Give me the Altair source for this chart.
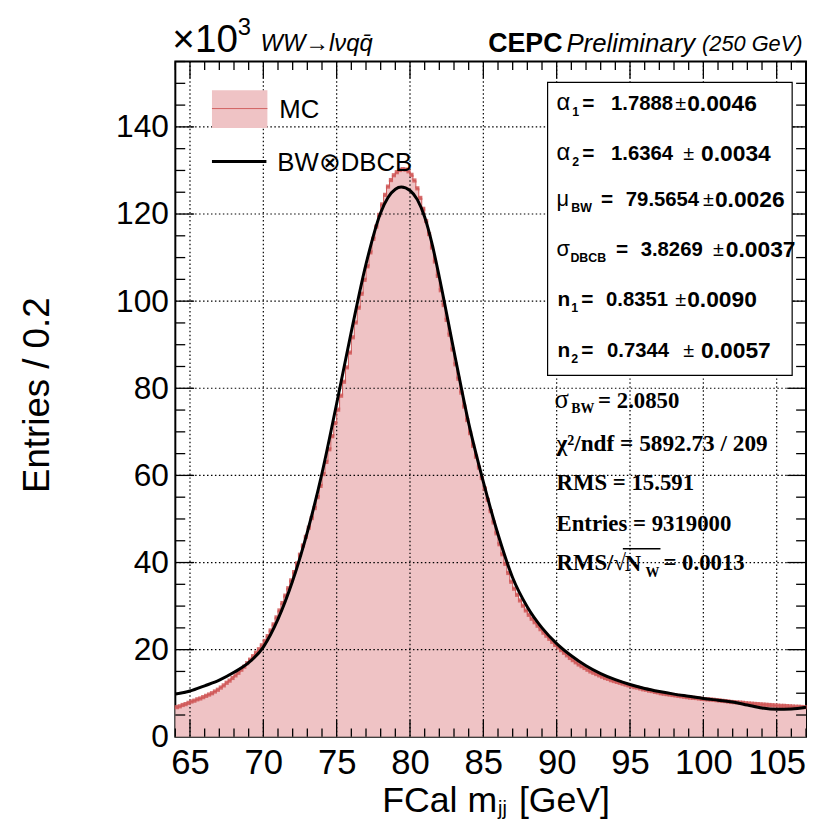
import altair as alt
import pandas as pd

# ---------------- data (values in units of 10^3 entries) ----------------
BIN_START = 64.0
BIN_WIDTH = 0.2
MC_COUNTS = [
    6.8, 7.0, 7.3, 7.5, 7.8, 8.1, 8.3, 8.6, 8.8, 9.1,
    9.4, 9.7, 10.0, 10.4, 10.8, 11.3, 11.8, 12.4, 12.9, 13.5,
    14.1, 14.7, 15.4, 16.1, 16.9, 17.7, 18.5, 19.3, 20.1, 21.0,
    22.0, 23.1, 24.4, 25.8, 27.4, 29.0, 30.7, 32.4, 34.1, 35.9,
    37.8, 39.8, 41.8, 43.9, 45.9, 48.0, 50.2, 52.5, 55.0, 57.6,
    60.3, 63.1, 66.0, 69.0, 72.0,
    75.1, 78.3, 81.5, 84.8, 88.2, 91.7, 95.1, 98.5, 101.7, 104.9,
    108.0, 111.2, 114.3, 117.1, 119.8, 122.2, 124.4, 126.3, 127.8, 128.9,
    129.6, 130.1, 130.3, 130.2, 129.8,
    129.0, 127.7, 125.9, 123.7, 121.2, 118.4, 115.4, 112.3, 109.1, 105.8,
    102.5, 99.1, 95.7, 92.3, 88.9, 85.5, 82.2, 79.0, 75.8, 72.7,
    69.7, 66.8, 64.3, 61.8, 59.4,
    57.0, 54.4, 51.8, 49.2, 46.7, 44.2, 41.9, 39.7, 37.6, 35.6,
    34.0, 32.6, 31.3, 30.1, 29.0, 28.0, 27.1, 26.3, 25.5, 24.7,
    23.9, 23.2, 22.5, 21.8, 21.1,
    20.5, 19.9, 19.3, 18.7, 18.1, 17.6, 17.1, 16.6, 16.2, 15.8,
    15.4, 15.0, 14.7, 14.4, 14.1, 13.8, 13.5, 13.3, 13.0, 12.8,
    12.6, 12.4, 12.2, 12.0, 11.8,
    11.6, 11.4, 11.3, 11.1, 10.9, 10.8, 10.6, 10.5, 10.3, 10.2,
    10.0, 9.9, 9.8, 9.7, 9.6, 9.5, 9.4, 9.3, 9.2, 9.1,
    9.0, 8.95, 8.9, 8.8, 8.7,
    8.65, 8.6, 8.55, 8.5, 8.4, 8.35, 8.25, 8.2, 8.1, 8.0,
    7.95, 7.9, 7.85, 7.8, 7.7, 7.65, 7.6, 7.55, 7.5, 7.45,
    7.4, 7.35, 7.3, 7.25, 7.2,
    7.15, 7.1, 7.1, 7.05, 7.0, 6.95, 6.9, 6.9, 6.85, 6.8,
]
FIT_X = [64, 65, 66, 67, 68, 69, 70, 71, 72, 73, 74, 75, 76, 77, 78, 78.5, 79, 79.4,
         80, 80.5, 81, 81.5, 82, 83, 84, 85, 86, 87, 88, 89, 90, 91, 92, 93, 94, 95,
         96, 97, 98, 99, 100, 101, 102, 103, 104, 105, 106, 107]
FIT_Y = [9.8, 10.5, 11.7, 13.0, 14.8, 17.0, 20.6, 27.0, 35.8, 47.0, 60.5, 76.5, 93.0,
         108.5, 120.3, 123.8, 125.7, 126.2, 125.4, 123.3, 119.3, 113.2, 105.5, 88.5,
         72.0, 58.5, 46.5, 36.5, 29.8, 25.0, 21.4, 18.6, 16.3, 14.5, 13.1, 12.0, 11.1,
         10.4, 9.8, 9.3, 8.8, 8.4, 8.0, 7.3, 6.6, 6.3, 6.4, 6.8]
X_DOMAIN = [64, 107]
Y_DOMAIN = [0, 155]
X_TICKS = [65, 70, 75, 80, 85, 90, 95, 100, 105]
Y_TICKS = [0, 20, 40, 60, 80, 100, 120, 140]
X_MINOR = [v for v in range(64, 108) if v % 5 != 0]
Y_MINOR = [v for v in range(5, 156, 5) if v % 20 != 0]

PARAM_SYMBOLS = ["α", "α", "μ", "σ", "n", "n"]
PARAM_SUBS = ["1", "2", "BW", "DBCB", "1", "2"]
PARAM_VALUES = ["1.7888", "1.6364", "79.5654", "3.8269", "0.8351", "0.7344"]
PARAM_ERRORS = ["0.0046", "0.0034", "0.0026", "0.0037", "0.0090", "0.0057"]
SIGMA_BW = "2.0850"
CHI2, NDF = "5892.73", "209"
RMS = "15.591"
ENTRIES = "9319000"
RMS_SQRT_N = "0.0013"

# ---------------- layout ----------------
W, H = 637, 682
PAD_L, PAD_T = 169, 50
SANS = "Liberation Sans"
SERIF = "Liberation Serif"


def P(xp, yp):
    """page pixel -> plot pixel"""
    return xp - (8 + PAD_L), yp - (8 + PAD_T)


xs = alt.Scale(domain=X_DOMAIN, nice=False, zero=False)
ys = alt.Scale(domain=Y_DOMAIN, nice=False, zero=False)

n = len(MC_COUNTS)
edges = [BIN_START + BIN_WIDTH * i for i in range(n + 1)]
hist_df = pd.DataFrame({"x": edges, "y": MC_COUNTS + [MC_COUNTS[-1]]})
cent_df = pd.DataFrame({"x": [BIN_START + BIN_WIDTH * (i + 0.5) for i in range(n)], "y": MC_COUNTS})
fit_df = pd.DataFrame({"x": FIT_X, "y": FIT_Y})
one = pd.DataFrame({"a": [0]})

x_axis = alt.Axis(values=X_TICKS, format="d", labelFont=SANS, labelFontSize=35, labelColor="black",
                  labelPadding=9, ticks=False, domain=False, grid=False, labelFlush=False,
                  labelOverlap=False, title=None)
y_axis = alt.Axis(values=Y_TICKS, format="d", labelFont=SANS, labelFontSize=32, labelColor="black",
                  labelPadding=7, ticks=False, domain=False, grid=False, labelFlush=False,
                  labelOverlap=False, title=None)


def X(f):
    return alt.X(f, scale=xs, axis=x_axis, title=None)


def Y(f):
    return alt.Y(f, scale=ys, axis=y_axis, title=None)


layers = []
layers.append(alt.Chart(hist_df).mark_area(interpolate="step-after", color="#efc3c5").encode(
    x=X("x:Q"), y=Y("y:Q")))

# grid (dotted, drawn over the fill)
gx = pd.DataFrame({"g": X_TICKS})
gy = pd.DataFrame({"g": Y_TICKS[1:]})
layers.append(alt.Chart(gx).mark_rule(color="black", strokeWidth=1.2, strokeDash=[1.5, 2.5]).encode(
    x=X("g:Q"), y=alt.value(0), y2=alt.value(H)))
layers.append(alt.Chart(gy).mark_rule(color="black", strokeWidth=1.2, strokeDash=[1.5, 2.5]).encode(
    y=Y("g:Q"), x=alt.value(0), x2=alt.value(W)))

layers.append(alt.Chart(hist_df).mark_line(interpolate="step-after", color="#cc5555", strokeWidth=1).encode(
    x=X("x:Q"), y=Y("y:Q")))
layers.append(alt.Chart(cent_df).mark_square(size=18, color="#d05858", opacity=0.85).encode(
    x=X("x:Q"), y=Y("y:Q")))

layers.append(alt.Chart(fit_df).mark_line(interpolate="monotone", color="black", strokeWidth=3).encode(
    x=X("x:Q"), y=Y("y:Q")))


# ticks (inside frame, ROOT style)
def xticks(vals, ln):
    d = pd.DataFrame({"t": vals})
    a = alt.Chart(d).mark_rule(color="black", strokeWidth=1.3).encode(
        x=X("t:Q"), y=alt.value(H), y2=alt.value(H - ln))
    b = alt.Chart(d).mark_rule(color="black", strokeWidth=1.3).encode(
        x=X("t:Q"), y=alt.value(0), y2=alt.value(ln))
    return [a, b]


def yticks(vals, ln):
    d = pd.DataFrame({"t": vals})
    a = alt.Chart(d).mark_rule(color="black", strokeWidth=1.3).encode(
        y=Y("t:Q"), x=alt.value(0), x2=alt.value(ln))
    b = alt.Chart(d).mark_rule(color="black", strokeWidth=1.3).encode(
        y=Y("t:Q"), x=alt.value(W), x2=alt.value(W - ln))
    return [a, b]


layers += xticks(X_TICKS, 17) + xticks(X_MINOR, 8.5) + yticks(Y_TICKS[1:], 19) + yticks(Y_MINOR, 10)


def txt(s, xp, yp, size, font=SANS, weight="normal", style="normal", align="left",
        baseline="middle", angle=0):
    x, y = P(xp, yp)
    kw = dict(text=s, fontSize=size, font=font, fontWeight=weight, fontStyle=style,
              align=align, baseline=baseline, color="black")
    if angle:
        kw["angle"] = angle
    return alt.Chart(one).mark_text(**kw).encode(x=alt.value(x), y=alt.value(y))


def box(x0, y0, x1, y1, **kw):
    a, b = P(x0, y0)
    c, d = P(x1, y1)
    return alt.Chart(one).mark_rect(**kw).encode(x=alt.value(a), x2=alt.value(c),
                                                 y=alt.value(b), y2=alt.value(d))


def hline(x0, x1, yp, color, width):
    a, b = P(x0, yp)
    c, _ = P(x1, yp)
    return alt.Chart(one).mark_rule(color=color, strokeWidth=width).encode(
        x=alt.value(a), x2=alt.value(c), y=alt.value(b))


# stats box
layers.append(box(553, 79, 800, 375, fill="white", stroke="black", strokeWidth=1.2))
line_y = [101, 151, 198, 248, 299, 350]
sym_size = [24, 24, 22, 22, 21, 21]
sub_x = [578, 578, 577, 576, 577, 577]
eq_x = [588, 588, 607, 622, 587, 587]
val_x = [617, 617, 632, 647, 612, 613]
pm_x = [682, 690, 710, 720, 682, 690]
err_x = [694, 708, 722, 733, 694, 708]
for i in range(6):
    sym = PARAM_SYMBOLS[i]
    if sym == "n":
        layers.append(txt(sym, 563, line_y[i], sym_size[i], weight="bold"))
    else:
        layers.append(txt(sym, 562, line_y[i] - 1, sym_size[i]))
    layers.append(txt(PARAM_SUBS[i], sub_x[i], line_y[i] + 8, 12.5, weight="bold"))
    layers.append(txt("=", eq_x[i], line_y[i], 21, weight="bold"))
    layers.append(txt(PARAM_VALUES[i], val_x[i], line_y[i], 20.5, weight="bold"))
    layers.append(txt("±", pm_x[i], line_y[i], 20))
    layers.append(txt(PARAM_ERRORS[i], err_x[i], line_y[i], 23, weight="bold"))

# serif stats below
layers.append(txt("σ", 560, 400, 27, font=SERIF))
layers.append(txt("BW", 577, 409, 14, font=SERIF, weight="bold"))
layers.append(txt("= " + SIGMA_BW, 604, 401, 23, font=SERIF, weight="bold"))
layers.append(txt("χ²/ndf = " + CHI2 + " / " + NDF, 562, 444, 23.5, font=SERIF, weight="bold"))
layers.append(txt("RMS = " + RMS, 562, 484, 23, font=SERIF, weight="bold"))
layers.append(txt("Entries = " + ENTRIES, 562, 525, 23, font=SERIF, weight="bold"))
layers.append(txt("RMS/√", 562, 565, 23, font=SERIF, weight="bold"))
layers.append(txt("N", 631, 566, 23, font=SERIF, weight="bold"))
layers.append(txt("W", 652, 575, 14, font=SERIF, weight="bold"))
layers.append(txt("= " + RMS_SQRT_N, 670, 565, 23, font=SERIF, weight="bold"))
layers.append(hline(629, 667, 550, "black", 1.5))

# legend
layers.append(box(214, 87, 270, 125, fill="#efc3c5"))
layers.append(hline(214, 270, 105.5, "#d06060", 1))
layers.append(txt("MC", 282, 107, 26))
layers.append(hline(214, 269, 159, "black", 3))
layers.append(txt("BW⊗DBCB", 280, 161, 26))

# header texts
layers.append(txt("×10", 174, 48, 39, baseline="alphabetic"))
layers.append(txt("3", 240, 31, 24, baseline="alphabetic"))
layers.append(txt("WW→lνqq\u0304", 263, 47, 24, style="italic", baseline="alphabetic"))
layers.append(txt("CEPC", 493, 48, 27, weight="bold", baseline="alphabetic"))
layers.append(txt("Preliminary", 572, 48, 26, style="italic", baseline="alphabetic"))
layers.append(txt("(250 GeV)", 709, 47, 22, style="italic", baseline="alphabetic"))

# axis titles
layers.append(txt("Entries / 0.2", 38, 395, 37, align="center", angle=270))
layers.append(txt("FCal m", 502, 816, 36, align="right", baseline="alphabetic"))
layers.append(txt("jj", 503, 819, 20, baseline="alphabetic"))
layers.append(txt("[GeV]", 524, 816, 36, baseline="alphabetic"))

chart = alt.layer(*layers).properties(
    width=W, height=H,
    autosize=alt.AutoSizeParams(type="none"),
    padding={"left": PAD_L, "top": PAD_T, "right": 2, "bottom": 84},
).configure_view(stroke="black", strokeWidth=2)

chart.save("out.html", embed_options={"renderer": "svg", "actions": False})
